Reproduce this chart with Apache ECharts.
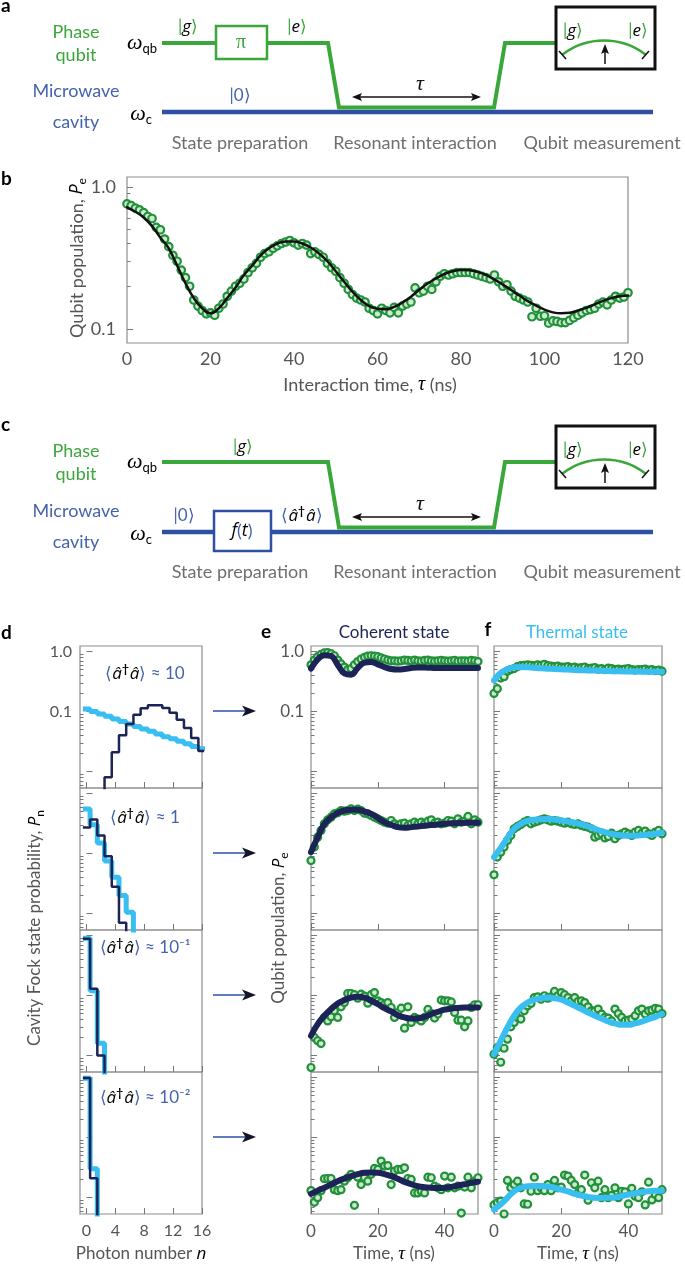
<!DOCTYPE html>
<html><head><meta charset="utf-8">
<script src="https://cdn.jsdelivr.net/npm/echarts@6/dist/echarts.min.js"></script>
<style>html,body{margin:0;padding:0;background:#fff}#c{width:685px;height:1267px}</style>
</head><body><div id="c"></div>
<script>
// ================= DATA =================
// Panel b: interaction time (ns) and measured qubit population
const bTime = [0,1,2,3,4,5,6,7,8,9,10,11,12,13,14,15,16,17,18,19,20,21,22,23,24,25,26,27,28,29,30,31,32,33,34,35,36,37,38,39,40,41,42,43,44,45,46,47,48,49,50,51,52,53,54,55,56,57,58,59,60,61,62,63,64,65,66,67,68,69,70,71,72,73,74,75,76,77,78,79,80,81,82,83,84,85,86,87,88,89,90,91,92,93,94,95,96,97,98,99,100,101,102,103,104,105,106,107,108,109,110,111,112,113,114,115,116,117,118,119,120];
const bPe = [0.76,0.74,0.71,0.69,0.66,0.62,0.60,0.52,0.50,0.43,
 0.38,0.33,0.30,0.26,0.23,0.20,0.16,0.145,0.135,0.128,
 0.13,0.125,0.14,0.15,0.17,0.185,0.20,0.21,0.225,0.25,
 0.27,0.29,0.32,0.34,0.35,0.37,0.385,0.40,0.41,0.42,
 0.405,0.39,0.40,0.39,0.34,0.35,0.335,0.32,0.29,0.27,
 0.255,0.23,0.21,0.19,0.175,0.165,0.16,0.155,0.14,0.135,
 0.128,0.14,0.135,0.13,0.142,0.13,0.145,0.15,0.155,0.195,
 0.18,0.185,0.20,0.19,0.215,0.235,0.245,0.24,0.245,0.25,
 0.25,0.25,0.25,0.245,0.24,0.235,0.23,0.225,0.24,0.215,
 0.20,0.205,0.185,0.17,0.165,0.16,0.155,0.122,0.14,0.123,
 0.124,0.11,0.114,0.113,0.111,0.111,0.115,0.12,0.125,0.13,
 0.135,0.137,0.14,0.15,0.155,0.148,0.16,0.17,0.165,0.168,
 0.18];
const bFitTime = [0,2,4,6,8,10,12,14,16,18,20,22,24,26,28,30,32,34,36,38,40,42,44,46,48,50,52,54,56,58,60,62,64,66,68,70,72,74,76,78,80,82,84,86,88,90,92,94,96,98,100,102,104,106,108,110,112,114,116,118,120];
const bFit = [0.72,0.67,0.61,0.53,0.44,0.37,0.28,0.21,0.165,0.14,
 0.129,0.14,0.165,0.196,0.24,0.28,0.33,0.37,0.40,0.413,
 0.413,0.40,0.375,0.34,0.30,0.255,0.215,0.183,0.16,0.145,
 0.139,0.138,0.143,0.154,0.169,0.189,0.209,0.227,0.244,0.255,
 0.26,0.259,0.252,0.24,0.223,0.206,0.188,0.172,0.157,0.146,
 0.137,0.131,0.129,0.13,0.135,0.141,0.149,0.158,0.165,0.17,
 0.172];

// Panel d: cavity Fock-state probabilities vs photon number
const photonN = [0,1,2,3,4,5,6,7,8,9,10,11,12,13,14,15,16];
const dCoherent = [
 [0.00005,0.0005,0.002,0.008,0.021,0.04,0.062,0.088,0.113,0.127,0.127,0.114,0.095,0.073,0.053,0.036,0.022],
 [0.27,0.37,0.2,0.09,0.028,0.007,0.0015,0.0003,0.00005],
 [0.88,0.13,0.01,0.0005],
 [0.98,0.021,0.0003]
];
const dThermal = [
 [0.11,0.1,0.091,0.083,0.075,0.068,0.062,0.056,0.051,0.047,0.042,0.038,0.035,0.032,0.029,0.026,0.024],
 [0.55,0.3,0.15,0.075,0.04,0.02,0.0105,0.004,0.002],
 [0.9,0.12,0.016,0.002,0.0002],
 [0.97,0.03,0.001]
];
const dLabels = ['10', '1', '10⁻¹', '10⁻²'];

// Panels e, f: qubit population vs time
const ptTime = [0,1,2,3,4,5,6,7,8,9,10,11,12,13,14,15,16,17,18,19,20,21,22,23,24,25,26,27,28,29,30,31,32,33,34,35,36,37,38,39,40,41,42,43,44,45,46,47,48,49,50];
const fitTime = [0,2,4,6,8,10,12,14,16,18,20,22,24,26,28,30,32,34,36,38,40,42,44,46,48,50];
const ePts = [
 [0.60,0.72,0.82,0.9,0.95,0.96,0.92,0.85,0.72,0.62,0.55,0.5,0.52,0.6,0.68,0.75,0.8,0.84,0.85,0.84,0.82,0.78,0.75,0.72,0.7,0.7,0.69,0.7,0.72,0.71,0.7,0.72,0.7,0.69,0.71,0.72,0.7,0.69,0.7,0.71,0.7,0.69,0.7,0.71,0.69,0.7,0.7,0.69,0.71,0.7,0.68],
 [0.0763,0.128,0.187,0.242,0.312,0.364,0.403,0.458,0.476,0.52,0.508,0.52,0.555,0.52,0.548,0.52,0.47,0.458,0.43,0.403,0.378,0.355,0.333,0.32,0.355,0.312,0.293,0.312,0.32,0.293,0.312,0.333,0.312,0.333,0.312,0.346,0.364,0.32,0.333,0.312,0.32,0.355,0.346,0.312,0.378,0.333,0.346,0.414,0.312,0.364,0.333],
 [0.0063,0.02,0.0176,0.0158,0.043,0.0377,0.044,0.0555,0.043,0.0646,0.0763,0.108,0.108,0.103,0.09,0.105,0.0975,0.0745,0.103,0.112,0.0815,0.0763,0.0717,0.0763,0.063,0.043,0.052,0.0614,0.0285,0.0646,0.0355,0.043,0.0404,0.0377,0.043,0.0585,0.05,0.042,0.049,0.0837,0.0815,0.0815,0.078,0.052,0.0387,0.0387,0.03,0.0377,0.063,0.07,0.07],
 [0.013,0.0083,0.0099,0.013,0.0205,0.0207,0.0207,0.0135,0.013,0.0135,0.0187,0.0213,0.0243,0.0074,0.0218,0.0164,0.0213,0.0187,0.0243,0.0305,0.0293,0.0404,0.0334,0.034,0.0164,0.0275,0.0293,0.0293,0.0312,0.0207,0.02,0.0119,0.0119,0.0127,0.0119,0.0218,0.0213,0.0154,0.0145,0.0135,0.0227,0.0145,0.0218,0.0145,0.0154,0.0055,0.0149,0.0218,0.0145,0.0187,0.0213]
];
const eFit = [
 [0.52,0.74,0.87,0.84,0.6,0.43,0.41,0.53,0.65,0.67,0.61,0.55,0.51,0.5,0.51,0.53,0.54,0.54,0.535,0.53,0.53,0.53,0.53,0.53,0.53,0.53],
 [0.105,0.187,0.31,0.4,0.476,0.52,0.534,0.534,0.501,0.458,0.393,0.333,0.3,0.275,0.268,0.275,0.282,0.29,0.298,0.305,0.312,0.318,0.322,0.324,0.324,0.324],
 [0.0213,0.0334,0.046,0.0594,0.0737,0.0837,0.0924,0.095,0.0924,0.0815,0.0717,0.0614,0.0542,0.047,0.043,0.0413,0.0418,0.044,0.049,0.0535,0.058,0.0606,0.062,0.063,0.063,0.063],
 [0.0115,0.013,0.0145,0.0165,0.0187,0.0207,0.0227,0.0245,0.0258,0.026,0.0258,0.0245,0.0227,0.0205,0.0182,0.0166,0.0154,0.0148,0.0145,0.0144,0.0145,0.015,0.0158,0.0166,0.0176,0.0182]
];
const fPts = [
 [0.2,0.24,0.36,0.38,0.47,0.5,0.52,0.56,0.58,0.59,0.6,0.59,0.58,0.6,0.59,0.61,0.58,0.57,0.56,0.57,0.55,0.55,0.56,0.54,0.55,0.53,0.54,0.55,0.52,0.53,0.54,0.51,0.52,0.5,0.53,0.52,0.5,0.51,0.5,0.51,0.52,0.5,0.49,0.5,0.5,0.51,0.49,0.5,0.48,0.49,0.47],
 [0.044,0.087,0.105,0.128,0.165,0.2,0.258,0.282,0.304,0.333,0.355,0.312,0.333,0.346,0.364,0.378,0.364,0.346,0.355,0.346,0.333,0.32,0.333,0.312,0.304,0.312,0.293,0.282,0.275,0.258,0.187,0.2,0.213,0.182,0.192,0.218,0.176,0.2,0.213,0.227,0.213,0.2,0.227,0.242,0.218,0.236,0.213,0.2,0.227,0.242,0.213],
 [0.0105,0.0135,0.0077,0.0132,0.0187,0.03,0.0355,0.043,0.0404,0.0555,0.067,0.0737,0.0924,0.095,0.0865,0.099,0.09,0.095,0.117,0.099,0.112,0.103,0.0924,0.0815,0.0924,0.0794,0.0815,0.0763,0.0646,0.0555,0.0555,0.0594,0.049,0.043,0.042,0.0377,0.0594,0.05,0.043,0.0377,0.0387,0.0404,0.046,0.0555,0.0594,0.049,0.0555,0.057,0.061,0.0594,0.05],
 [0.0075,0.0082,0.0087,0.0053,0.0192,0.0145,0.0164,0.0187,0.0145,0.0078,0.0077,0.0127,0.0218,0.013,0.0145,0.013,0.0164,0.013,0.0192,0.0145,0.0149,0.0236,0.0227,0.0192,0.0164,0.0119,0.0135,0.0236,0.009,0.0176,0.0145,0.0187,0.0099,0.0135,0.0099,0.0108,0.0145,0.0099,0.0127,0.0124,0.0078,0.0142,0.0105,0.0099,0.0124,0.0075,0.018,0.0091,0.0112,0.0099,0.0135]
];
const fFit = [
 [0.33,0.44,0.51,0.545,0.55,0.545,0.535,0.525,0.518,0.51,0.505,0.5,0.493,0.488,0.484,0.48,0.476,0.472,0.469,0.467,0.465,0.463,0.461,0.46,0.46,0.46],
 [0.087,0.123,0.182,0.258,0.312,0.35,0.364,0.372,0.376,0.369,0.355,0.341,0.325,0.305,0.282,0.258,0.236,0.218,0.206,0.2,0.197,0.198,0.202,0.207,0.214,0.221],
 [0.0105,0.0176,0.0293,0.046,0.063,0.0763,0.085,0.09,0.0924,0.09,0.085,0.0763,0.067,0.0594,0.052,0.046,0.0413,0.0368,0.0342,0.0324,0.0324,0.0342,0.0368,0.0404,0.044,0.049],
 [0.0063,0.0077,0.0099,0.0127,0.0145,0.0154,0.0155,0.0155,0.0152,0.0145,0.0135,0.0126,0.0115,0.0108,0.0102,0.0099,0.0098,0.0099,0.01,0.0106,0.0112,0.0117,0.0122,0.0127,0.013,0.013]
];

// Tick values
const bXTicks = [0,20,40,60,80,100,120];
const bYMajor = [0.1, 1];
const bYMinor = [0.2,0.3,0.4,0.5,0.6,0.7,0.8,0.9];
const logMajor = [0.01, 0.1, 1];
const logMinor = [0.006,0.007,0.008,0.009,0.02,0.03,0.04,0.05,0.06,0.07,0.08,0.09,0.2,0.3,0.4,0.5,0.6,0.7,0.8,0.9];
const logLabels = [0.1, 1];
const dXTicks = [0,4,8,12,16];
const efXTicks = [0,20,40];

// ================= STYLE / LAYOUT =================
const FONT = 'Lato, "Open Sans", "Noto Sans", sans-serif';
const IFONT = '"Open Sans", "Noto Sans", "DejaVu Sans", sans-serif';
const SERIF = '"Liberation Serif", "DejaVu Serif", serif';
const GREEN = '#3aa73a';
const BLUE = '#2d50a3';
const BLUE_TXT = '#4563ad';
const NAVY = '#1c2357';
const CYAN = '#38bef0';
const PT = '#21913a';
const PT_FILL = '#cfe9cf';
const TXT = '#555';
const FRAME = '#8e8e8e';

const grids = [], xAxes = [], yAxes = [], series = [], g = [];

function addPanel(p) {
  const gi = grids.length;
  grids.push({left:p.left, top:p.top, width:p.width, height:p.height, show:true,
    borderColor:FRAME, borderWidth:1.2, backgroundColor:'rgba(0,0,0,0)'});
  const xi = xAxes.length;
  xAxes.push({type:'value', gridIndex:gi, min:p.xMin, max:p.xMax, position:'bottom',
    axisLine:{show:false}, splitLine:{show:false},
    axisTick: p.xTicks ? {show:true, inside:true, length:6, customValues:p.xTicks, lineStyle:{color:'#777', width:1}} : {show:false},
    axisLabel: p.xLabels ? {show:true, customValues:p.xLabels, margin:p.xMargin||8, fontSize:p.xFont||17, color:TXT, fontFamily:FONT} : {show:false}});
  const yi = yAxes.length;
  yAxes.push({type:'log', logBase:10, gridIndex:gi, min:p.yMin, max:p.yMax, position:'left',
    axisLine:{show:false}, splitLine:{show:false},
    axisTick:{show:true, inside:true, length:6, customValues:p.yMajor, lineStyle:{color:'#777', width:1}},
    axisLabel: p.yLabels ? {show:true, customValues:p.yLabels, formatter: v => (v >= 0.99 ? '1.0' : '0.1'),
      margin:p.yMargin||8, fontSize:p.yFont||16, color:TXT, fontFamily:FONT} : {show:false}});
  yAxes.push({type:'log', logBase:10, gridIndex:gi, min:p.yMin, max:p.yMax, position:'left',
    axisLine:{show:false}, splitLine:{show:false},
    axisTick:{show:true, inside:true, length:3.5, customValues:p.yMinor, lineStyle:{color:'#777', width:1}},
    axisLabel:{show:false}});
  return {xi, yi};
}
function scatter(ax, xs, ys, size, bw) {
  series.push({type:'scatter', xAxisIndex:ax.xi, yAxisIndex:ax.yi, silent:true, z:2,
    symbol:'circle', symbolSize:size, itemStyle:{color:PT_FILL, borderColor:PT, borderWidth:bw, opacity:1},
    data: xs.map((x, i) => [x, ys[i]])});
}
function curve(ax, xs, ys, color, width) {
  series.push({type:'line', xAxisIndex:ax.xi, yAxisIndex:ax.yi, silent:true, z:3,
    showSymbol:false, symbol:'none', smooth:0.45, lineStyle:{color, width, cap:'round'},
    data: xs.map((x, i) => [x, ys[i]])});
}
function hist(ax, probs, color, width, z) {
  // Fock-state histogram drawn as steps over bins [n-0.5, n+0.5]
  const data = probs.map((p, i) => [photonN[i] - 0.5, p]);
  data.push([photonN[probs.length - 1] + 0.5, probs[probs.length - 1]]);
  series.push({type:'line', xAxisIndex:ax.xi, yAxisIndex:ax.yi, silent:true, z,
    step:'end', showSymbol:false, symbol:'none', lineStyle:{color, width}, data});
}

// ---------- Panel b ----------
const axB = addPanel({left:127, top:177, width:501, height:166, xMin:0, xMax:120,
  xTicks:null, xLabels:bXTicks, xMargin:7, xFont:18,
  yMin:0.0797, yMax:1.176, yMajor:bYMajor, yMinor:bYMinor, yLabels:logLabels, yMargin:11, yFont:18});
scatter(axB, bTime, bPe, 7.5, 2.2);
curve(axB, bFitTime, bFit, '#111', 2.5);

// ---------- Panels d, e, f ----------
const rowTops = [646, 788, 930, 1072];
const rowH = 142;
const LMIN = 0.0053, LMAX = 1.235;
for (let r = 0; r < 4; r++) {
  const last = r === 3, first = r === 0;
  const axD = addPanel({left:80, top:rowTops[r], width:122, height:rowH, xMin:-0.9, xMax:16,
    xTicks:dXTicks, xLabels:last ? dXTicks : null, xMargin:9, xFont:16,
    yMin:LMIN, yMax:LMAX, yMajor:logMajor, yMinor:logMinor, yLabels:first ? logLabels : null, yMargin:8, yFont:16});
  hist(axD, dThermal[r], CYAN, 5, 3);
  hist(axD, dCoherent[r], NAVY, 2.5, 4);
  const axE = addPanel({left:311, top:rowTops[r], width:167, height:rowH, xMin:0, xMax:50,
    xTicks:efXTicks, xLabels:last ? efXTicks : null, xMargin:9, xFont:17,
    yMin:LMIN, yMax:LMAX, yMajor:logMajor, yMinor:logMinor, yLabels:first ? logLabels : null, yMargin:7, yFont:17});
  scatter(axE, ptTime, ePts[r], 7, 2.2);
  curve(axE, fitTime, eFit[r], NAVY, 6);
  const axF = addPanel({left:494, top:rowTops[r], width:168, height:rowH, xMin:0, xMax:50,
    xTicks:efXTicks, xLabels:last ? efXTicks : null, xMargin:9, xFont:17,
    yMin:LMIN, yMax:LMAX, yMajor:logMajor, yMinor:logMinor, yLabels:null});
  scatter(axF, ptTime, fPts[r], 7, 2.2);
  curve(axF, fitTime, fFit[r], CYAN, 6);
}

// ================= GRAPHIC (schematics & text) =================
function tok(o) {
  return {fontSize:o.size, fontFamily:o.family || FONT, fontStyle:o.style || 'normal',
    fontWeight:o.weight || 'normal', padding:o.pad, fill:o.fill};
}
function text(x, y, t, o = {}) {
  g.push({type:'text', x, y, rotation:o.rot || 0, z:60, silent:true,
    style:{text:t, fill:o.color || TXT, fontSize:o.size || 17, fontFamily:o.family || FONT,
      fontWeight:o.weight || 'normal', fontStyle:o.style || 'normal',
      align:o.align || 'center', verticalAlign:'middle', rich:o.rich}});
}
function pline(points, color, width, z) {
  g.push({type:'polyline', z:z || 20, silent:true, shape:{points},
    style:{stroke:color, lineWidth:width, fill:null, lineJoin:'miter'}});
}
function rect(x, y, w, h, color, width) {
  g.push({type:'rect', z:30, silent:true, shape:{x, y, width:w, height:h},
    style:{stroke:color, lineWidth:width, fill:'#fff'}});
}
function dblArrow(x1, x2, y) {
  pline([[x1 + 4, y], [x2 - 4, y]], '#111', 1.3, 25);
  g.push({type:'polygon', z:25, silent:true, shape:{points:[[x1, y], [x1 + 10, y - 4], [x1 + 8, y], [x1 + 10, y + 4]]}, style:{fill:'#111'}});
  g.push({type:'polygon', z:25, silent:true, shape:{points:[[x2, y], [x2 - 10, y - 4], [x2 - 8, y], [x2 - 10, y + 4]]}, style:{fill:'#111'}});
}
function ketRich(size) { return {i:tok({size, family:IFONT, style:'italic'})}; }
function meter(x0, y0) {
  rect(x0, y0, 99, 62, '#111', 3);
  const cx = x0 + 48, cy = y0 + 102, r = 68.5;
  g.push({type:'arc', z:35, silent:true, shape:{cx, cy, r, startAngle:-127.3 * Math.PI / 180, endAngle:-52.7 * Math.PI / 180, clockwise:true},
    style:{stroke:GREEN, lineWidth:2.6, fill:null}});
  pline([[x0 + 3, y0 + 44], [x0 + 10, y0 + 52]], '#111', 1.5, 36);
  pline([[x0 + 86, y0 + 52], [x0 + 93, y0 + 44]], '#111', 1.5, 36);
  pline([[x0 + 49, y0 + 57], [x0 + 49, y0 + 44]], '#111', 1.5, 36);
  g.push({type:'polygon', z:36, silent:true, shape:{points:[[x0 + 49, y0 + 37], [x0 + 45, y0 + 47], [x0 + 49, y0 + 45], [x0 + 53, y0 + 47]]}, style:{fill:'#111'}});
  text(x0 + 17, y0 + 24, '|{i|g}⟩', {color:GREEN, size:17, rich:ketRich(17)});
  text(x0 + 82, y0 + 24, '|{i|e}⟩', {color:GREEN, size:17, rich:ketRich(17)});
}
const omegaRich = {w:tok({size:22, family:SERIF, style:'italic'}), s:tok({size:13, pad:[12, 0, 0, 0]})};

function schematic(yq, yc, yTxt) {
  pline([[162, yc], [653, yc]], BLUE, 4.5, 20);
  const ylow = yc - 4.5;
  pline([[162, yq], [328, yq], [339, ylow], [494, ylow], [505, yq], [556, yq]], GREEN, 4, 21);
  dblArrow(352, 481, yc - 15);
  text(420, yc - 28, 'τ', {family:SERIF, style:'italic', size:22, color:'#111'});
  meter(556, yq - 36);
  text(76, yq - 11, 'Phase', {color:GREEN, size:18});
  text(76, yq + 12, 'qubit', {color:GREEN, size:18});
  text(142, yq, '{w|ω}{s|qb}', {color:GREEN, rich:omegaRich});
  text(76, yc - 21, 'Microwave', {color:BLUE_TXT, size:18});
  text(76, yc + 10, 'cavity', {color:BLUE_TXT, size:18});
  text(141, yc + 2, '{w|ω}{s|c}', {color:BLUE_TXT, rich:omegaRich});
  text(240, yTxt, 'State preparation', {color:'#6f6f6f', size:18});
  text(415, yTxt, 'Resonant interaction', {color:'#6f6f6f', size:18});
  text(602, yTxt, 'Qubit measurement', {color:'#6f6f6f', size:18});
}
// Panel a
schematic(43, 112, 143);
rect(216, 26, 51, 33, GREEN, 2.5);
text(241, 43, 'π', {family:SERIF, size:20, color:GREEN});
text(188, 27, '|{i|g}⟩', {color:GREEN, size:17, rich:ketRich(17)});
text(297, 27, '|{i|e}⟩', {color:GREEN, size:17, rich:ketRich(17)});
text(240, 96, '|0⟩', {color:BLUE_TXT, size:17});
text(1, 6, 'a', {color:'#000', size:19, weight:'bold', align:'left'});
// Panel c
schematic(462, 532, 572);
rect(214, 511, 57, 40, BLUE, 2.5);
text(242, 531, '{i|f}({i|t})', {color:BLUE_TXT, size:18, rich:{i:tok({size:18, family:IFONT, style:'italic'})}});
text(243, 447, '|{i|g}⟩', {color:GREEN, size:17, rich:ketRich(17)});
text(184, 516, '|0⟩', {color:BLUE_TXT, size:17});
const adagRich = {i:tok({size:17, family:IFONT, style:'italic'}), d:tok({size:12, weight:'bold', pad:[0, 1, 9, 0]})};
text(302, 516, '⟨{i|â}{d|†}{i|â}⟩', {color:BLUE_TXT, size:17, rich:adagRich});
text(1, 425, 'c', {color:'#000', size:19, weight:'bold', align:'left'});

// Panel b texts
const peRich = (size) => ({i:tok({size, family:IFONT, style:'italic'}), s:tok({size:12, pad:[10, 0, 0, 0]})});
text(1, 179, 'b', {color:'#000', size:19, weight:'bold', align:'left'});
text(77, 258, 'Qubit population, {i|P}{s|e}', {rot:Math.PI / 2, size:18, rich:peRich(18)});
text(370, 385, 'Interaction time, {t|τ} (ns)', {size:18, rich:{t:tok({size:20, family:SERIF, style:'italic'})}});

// Panels d, e, f texts
text(1, 633, 'd', {color:'#000', size:19, weight:'bold', align:'left'});
text(266, 632, 'e', {color:'#000', size:19, weight:'bold'});
text(488, 630, 'f', {color:'#000', size:19, weight:'bold'});
text(394, 633, 'Coherent state', {color:NAVY, size:17});
text(577, 633, 'Thermal state', {color:CYAN, size:17});
const annY = [674, 818, 948, 1098];
for (let r = 0; r < 4; r++) {
  text(145, annY[r], '⟨{i|â}{d|†}{i|â}⟩ ≈ ' + dLabels[r], {color:BLUE_TXT, size:17, rich:adagRich});
  const ay = rowTops[r] + 65;
  pline([[213, ay], [247, ay]], BLUE, 1.4, 25);
  g.push({type:'polygon', z:26, silent:true, shape:{points:[[256, ay], [242, ay - 5.5], [245.5, ay], [242, ay + 5.5]]}, style:{fill:'#141428'}});
}
text(35, 928, 'Cavity Fock state probability, {i|P}{s|n}', {rot:Math.PI / 2, size:17, rich:peRich(17)});
text(279, 928, 'Qubit population, {i|P}{s|e}', {rot:Math.PI / 2, size:17, rich:peRich(17)});
text(141, 1254, 'Photon number {i|n}', {size:17, rich:{i:tok({size:17, family:IFONT, style:'italic'})}});
text(394, 1254, 'Time, {t|τ} (ns)', {size:17, rich:{t:tok({size:19, family:SERIF, style:'italic'})}});
text(578, 1254, 'Time, {t|τ} (ns)', {size:17, rich:{t:tok({size:19, family:SERIF, style:'italic'})}});

const chart = echarts.init(document.getElementById('c'), null, {renderer:'canvas'});
chart.setOption({
  backgroundColor:'#fff', animation:false,
  grid:grids, xAxis:xAxes, yAxis:yAxes, series, graphic:{elements:g}
});
</script></body></html>
